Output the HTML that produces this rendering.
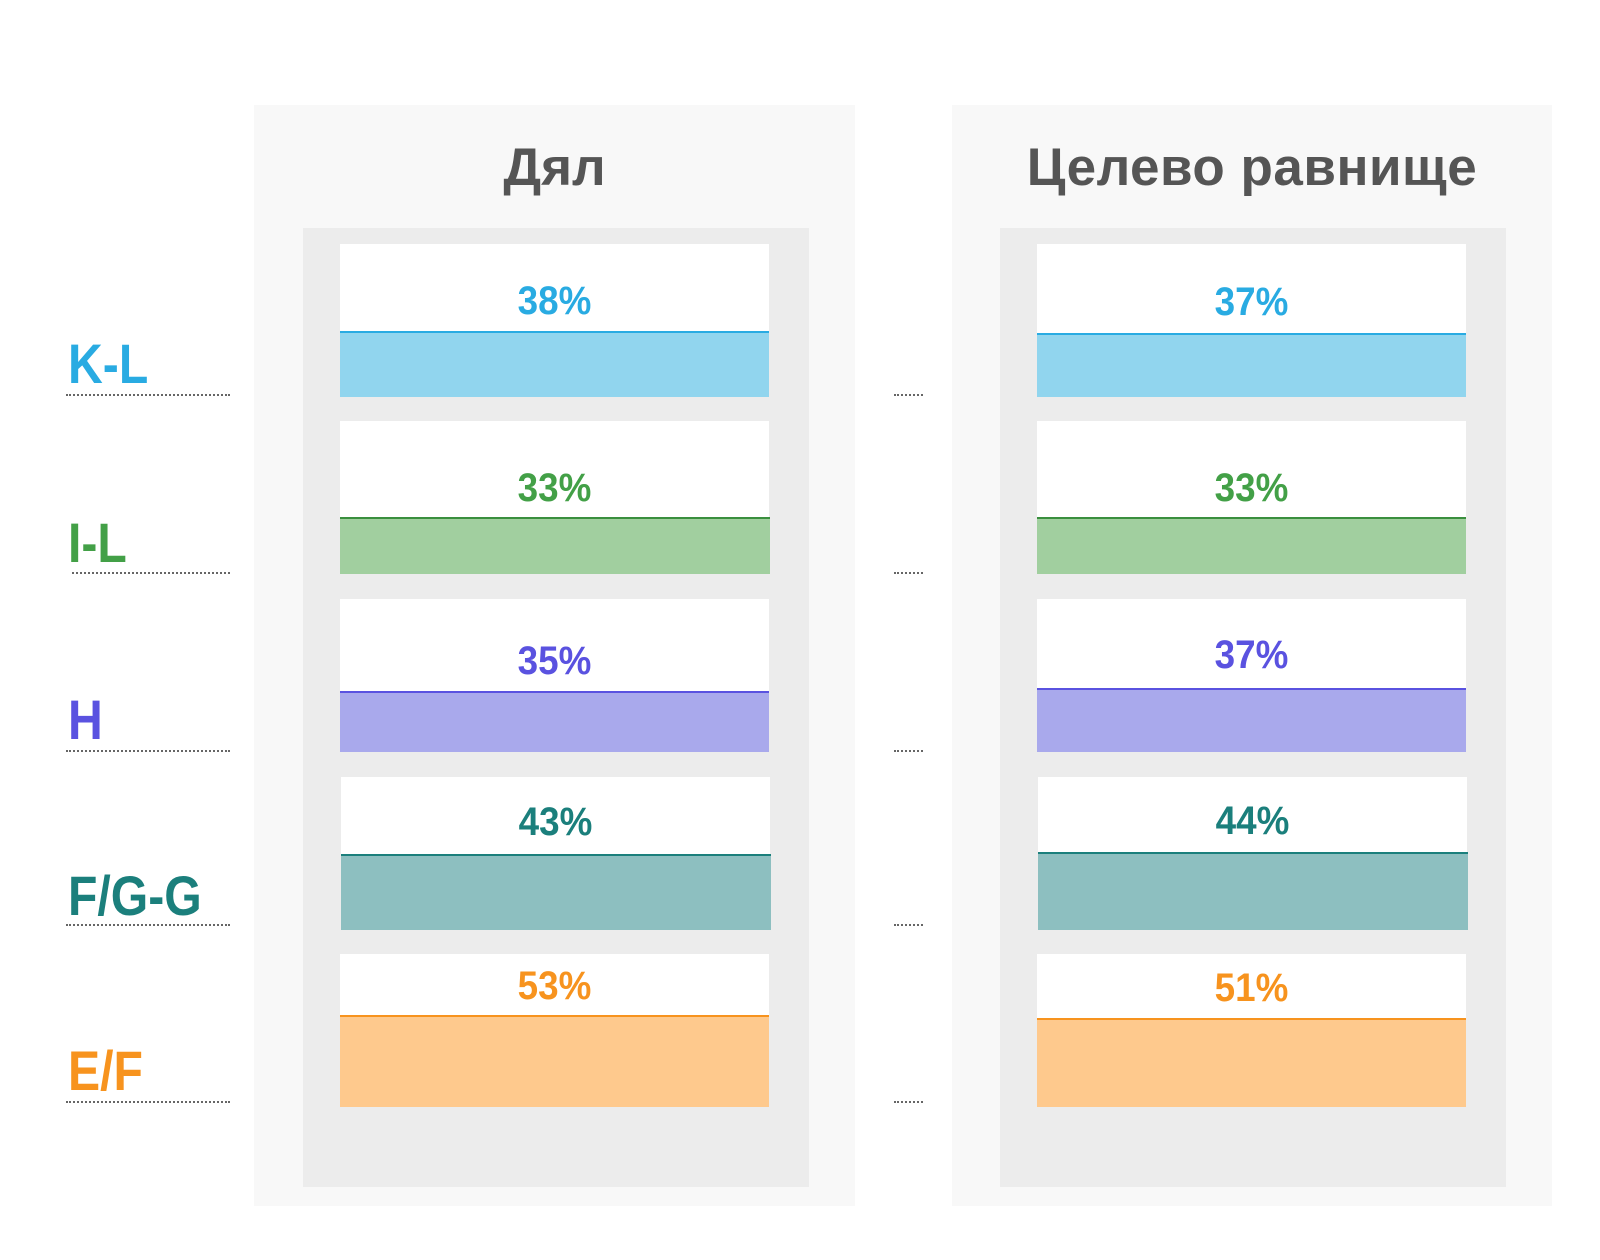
<!DOCTYPE html>
<html><head><meta charset="utf-8"><style>
body{margin:0;width:1600px;height:1260px;background:#fff;position:relative;overflow:hidden;font-family:"Liberation Sans",sans-serif}
div{position:absolute;box-sizing:border-box}
.outer{background:#f8f8f8}
.inner{background:#ececec}
.w{background:#fff}
.t{text-align:center;font-size:40px;height:50px;line-height:50px;font-weight:bold;transform:scaleX(0.92)}
.lab{font-size:56px;font-weight:bold;height:60px;line-height:60px;left:68px;transform:scaleX(0.86);transform-origin:left center}
.dot{border-top:2px dotted #666;height:0}
.title{font-size:53px;color:#555;text-align:center;height:60px;line-height:60px;font-weight:bold}
</style></head><body>
<div class="outer" style="left:254px;top:105px;width:601px;height:1101px"></div>
<div class="inner" style="left:303px;top:228px;width:506px;height:959px"></div>
<div class="outer" style="left:952px;top:105px;width:600px;height:1101px"></div>
<div class="inner" style="left:1000px;top:228px;width:506px;height:959px"></div>
<div class="title" style="left:254px;width:601px;top:138px">Дял</div>
<div class="title" style="left:952px;width:600px;top:138px;letter-spacing:0.5px">Целево равнище</div>

<!-- K-L -->
<div class="w" style="left:340px;top:244px;width:429px;height:87px"></div>
<div style="left:340px;top:331px;width:429px;height:66px;background:#91d5ee;border-top:2px solid #29abe2"></div>
<div class="t" style="left:340px;width:429px;top:276px;color:#29abe2">38%</div>
<div class="w" style="left:1037px;top:244px;width:429px;height:89px"></div>
<div style="left:1037px;top:333px;width:429px;height:64px;background:#91d5ee;border-top:2px solid #29abe2"></div>
<div class="t" style="left:1037px;width:429px;top:277px;color:#29abe2">37%</div>
<div class="lab" style="top:334px;color:#29abe2">K-L</div>
<div class="dot" style="left:66px;width:164px;top:394px"></div>
<div class="dot" style="left:894px;width:29px;top:394px"></div>

<!-- I-L -->
<div class="w" style="left:340px;top:421px;width:429px;height:96px"></div>
<div style="left:340px;top:517px;width:430px;height:57px;background:#a1cf9f;border-top:2px solid #3a8f3e"></div>
<div class="t" style="left:340px;width:429px;top:463px;color:#43a047">33%</div>
<div class="w" style="left:1037px;top:421px;width:429px;height:96px"></div>
<div style="left:1037px;top:517px;width:429px;height:57px;background:#a1cf9f;border-top:2px solid #3a8f3e"></div>
<div class="t" style="left:1037px;width:429px;top:463px;color:#43a047">33%</div>
<div class="lab" style="top:513px;color:#43a047">I-L</div>
<div class="dot" style="left:72px;width:158px;top:572px"></div>
<div class="dot" style="left:894px;width:29px;top:572px"></div>

<!-- H -->
<div class="w" style="left:340px;top:599px;width:429px;height:92px"></div>
<div style="left:340px;top:691px;width:429px;height:61px;background:#a9a9ec;border-top:2px solid #5a52e0"></div>
<div class="t" style="left:340px;width:429px;top:636px;color:#5a52e0">35%</div>
<div class="w" style="left:1037px;top:599px;width:429px;height:89px"></div>
<div style="left:1037px;top:688px;width:429px;height:64px;background:#a9a9ec;border-top:2px solid #5a52e0"></div>
<div class="t" style="left:1037px;width:429px;top:630px;color:#5a52e0">37%</div>
<div class="lab" style="top:690px;color:#5a52e0">H</div>
<div class="dot" style="left:66px;width:164px;top:750px"></div>
<div class="dot" style="left:894px;width:29px;top:750px"></div>

<!-- F/G-G -->
<div class="w" style="left:341px;top:777px;width:429px;height:77px"></div>
<div style="left:341px;top:854px;width:430px;height:76px;background:#8dbfc0;border-top:2px solid #1b7f7c"></div>
<div class="t" style="left:341px;width:429px;top:797px;color:#1b7f7c">43%</div>
<div class="w" style="left:1038px;top:777px;width:429px;height:75px"></div>
<div style="left:1038px;top:852px;width:430px;height:78px;background:#8dbfc0;border-top:2px solid #1b7f7c"></div>
<div class="t" style="left:1038px;width:429px;top:796px;color:#1b7f7c">44%</div>
<div class="lab" style="top:866px;color:#1b7f7c">F/G-G</div>
<div class="dot" style="left:66px;width:164px;top:924px"></div>
<div class="dot" style="left:894px;width:29px;top:924px"></div>

<!-- E/F -->
<div class="w" style="left:340px;top:954px;width:429px;height:61px"></div>
<div style="left:340px;top:1015px;width:429px;height:92px;background:#fec98d;border-top:2px solid #f7931e"></div>
<div class="t" style="left:340px;width:429px;top:961px;color:#f7931e">53%</div>
<div class="w" style="left:1037px;top:954px;width:429px;height:64px"></div>
<div style="left:1037px;top:1018px;width:429px;height:89px;background:#fec98d;border-top:2px solid #f7931e"></div>
<div class="t" style="left:1037px;width:429px;top:963px;color:#f7931e">51%</div>
<div class="lab" style="top:1041px;color:#f7931e">E/F</div>
<div class="dot" style="left:66px;width:164px;top:1101px"></div>
<div class="dot" style="left:894px;width:29px;top:1101px"></div>
</body></html>
